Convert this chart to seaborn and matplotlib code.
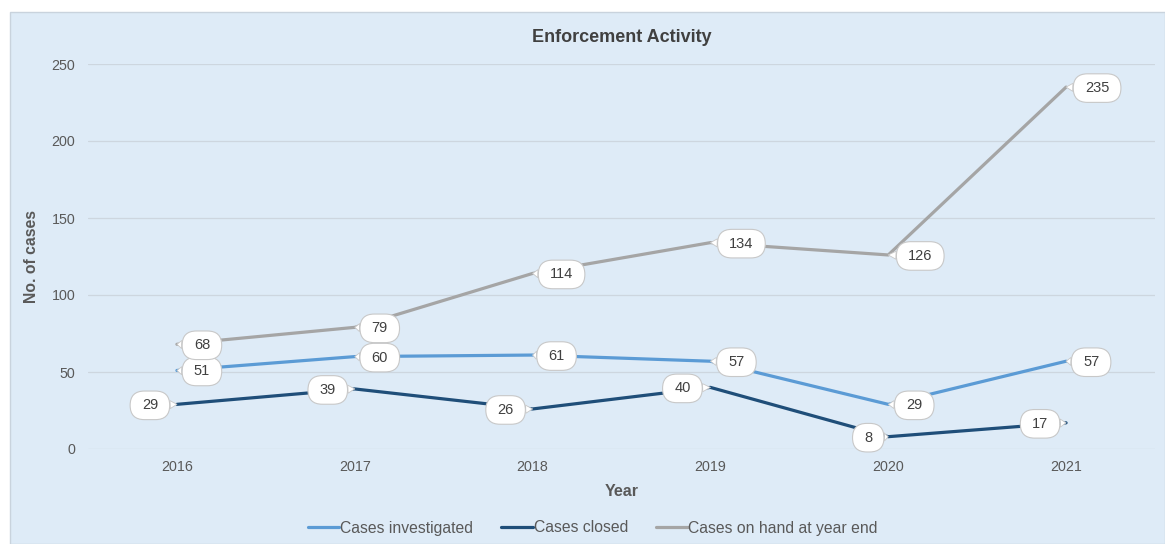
import matplotlib
matplotlib.use("Agg")
import matplotlib.pyplot as plt
import matplotlib.patches as mpatches
from matplotlib.patches import BoxStyle
import seaborn as sns
import pandas as pd

years = ["2016", "2017", "2018", "2019", "2020", "2021"]
investigated = [51, 60, 61, 57, 29, 57]
closed = [29, 39, 26, 40, 8, 17]
on_hand = [68, 79, 114, 134, 126, 235]
series_names = ["Cases investigated", "Cases closed", "Cases on hand at year end"]
colors = ["#5b9bd5", "#1f4e79", "#a5a5a5"]

sns.set_theme(style="white")
plt.rcParams['font.family'] = ['Liberation Sans', 'DejaVu Sans']

df = pd.DataFrame({
    "Year": years * 3,
    "Cases": investigated + closed + on_hand,
    "Series": [series_names[0]] * 6 + [series_names[1]] * 6 + [series_names[2]] * 6,
})


class Pill:
    """Rounded oval callout box with extra horizontal padding."""
    def __init__(self, padx=0.8, pady=0.5):
        self.padx = padx
        self.pady = pady

    def __call__(self, x0, y0, width, height, mutation_size):
        px = self.padx * mutation_size
        py = self.pady * mutation_size
        x0, y0 = x0 - px, y0 - py
        w, h = width + 2 * px, height + 2 * py
        rs = 0.5 * h / mutation_size
        return BoxStyle.Round(pad=0, rounding_size=rs)(x0, y0, w, h, mutation_size)


bg = "#deebf7"
fig = plt.figure(figsize=(11.65, 5.44), dpi=100, facecolor="white")
fig.patches.append(mpatches.Rectangle((10 / 1165, 0), 1 - 10 / 1165, 1 - 12 / 544,
                                      transform=fig.transFigure, facecolor=bg,
                                      edgecolor="#c9d3dd", linewidth=1, zorder=-10))
ax = fig.add_axes([88 / 1165, 1 - 449 / 544, (1155 - 88) / 1165, (449 - 64) / 544])
ax.set_facecolor(bg)

sns.lineplot(data=df, x="Year", y="Cases", hue="Series", palette=colors,
             linewidth=2.3, ax=ax, sort=False)

ax.set_xlim(-0.5, 5.5)
ax.set_ylim(0, 250)
ax.set_yticks([0, 50, 100, 150, 200, 250])
ax.grid(axis="y", color="#cdd6df", linewidth=0.9)
ax.set_axisbelow(True)
for s in ax.spines.values():
    s.set_visible(False)
ax.tick_params(axis="both", length=0, labelsize=10.3, labelcolor="#595959")
ax.tick_params(axis="y", pad=9)
ax.tick_params(axis="x", pad=8)
ax.set_xlabel("Year", fontsize=11.5, fontweight="bold", color="#595959", labelpad=7)
ax.set_ylabel("No. of cases", fontsize=11.3, fontweight="bold", color="#595959", labelpad=9)
ax.set_title("Enforcement Activity", fontsize=13, fontweight="bold", color="#404040", pad=16)

offsets = [
    [25, 25, 24, 26, 26, 25],
    [-27, -27, -27, -28, -20, -26],
    [25, 25, 29, 31, 32, 31],
]
for vals, offs in zip([investigated, closed, on_hand], offsets):
    for i, (v, dx) in enumerate(zip(vals, offs)):
        ax.annotate(str(v), xy=(i, v), xytext=(dx, -1), textcoords="offset pixels",
                    ha="center", va="center", fontsize=10.5, color="#404040",
                    bbox=dict(boxstyle=Pill(), fc="white", ec="#c8c8c8", lw=0.8),
                    arrowprops=dict(arrowstyle="wedge,tail_width=0.55,shrink_factor=0.5",
                                    fc="white", ec="#c8c8c8", lw=0.6, shrinkA=0, shrinkB=0),
                    zorder=5)

handles, labels = ax.get_legend_handles_labels()
ax.legend(handles, labels, loc="center", bbox_to_anchor=(593 / 1165, (544 - 528) / 544),
          bbox_transform=fig.transFigure, ncol=3, frameon=False, fontsize=11.3,
          labelcolor="#595959", handlelength=2.0, handletextpad=0.05, columnspacing=1.8)

fig.savefig("out.png", dpi=100, facecolor="white")
